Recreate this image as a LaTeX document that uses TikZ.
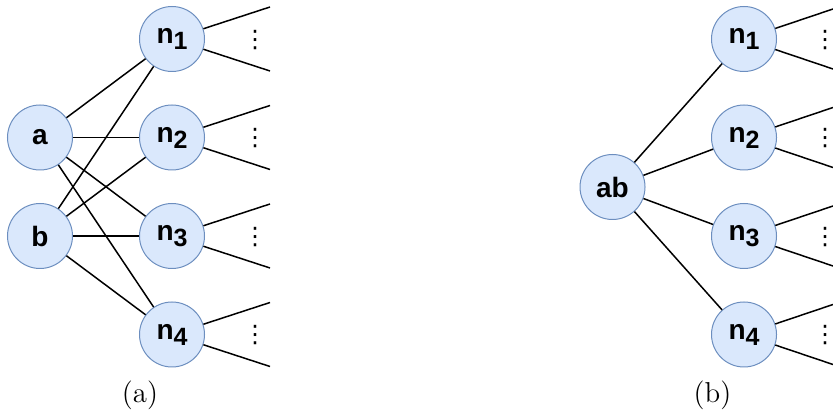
\documentclass[tikz,border=0pt]{standalone}
\usepackage{fontspec}
\newfontfamily\nodefont{Liberation Sans}
\newfontfamily\dotfont{DejaVu Sans}
\definecolor{nodefill}{HTML}{DAE8FC}
\definecolor{nodeline}{HTML}{6C8EBF}
\newcommand{\nsub}[1]{n\raisebox{-3pt}{\fontsize{12.5}{12.5}\selectfont #1}}
\tikzset{
  vertex/.style={circle, draw=nodeline, fill=nodefill, line width=0.5pt,
    minimum size=32.5pt, inner sep=0pt,
    font=\nodefont\bfseries\fontsize{14}{14}\selectfont},
  edge/.style={line width=0.75pt},
  more/.style={inner sep=0pt, font=\dotfont\fontsize{12}{12}\selectfont},
  caption/.style={font=\Large}
}

\begin{document}
\begin{tikzpicture}[x=0.5pt, y=-0.5pt]
  \useasboundingbox (0,0) rectangle (833,415);
  % (a)
  \node[vertex] (a) at (40,137.5) {a};
  \node[vertex] (b) at (40,236) {b};
  \foreach \i/\y in {1/39,2/137.5,3/236,4/334.5} {
    \node[vertex] (l\i) at (172,\y) {\nsub{\i}};
    \coordinate (lu\i) at (270,\y-32);
    \coordinate (ll\i) at (270,\y+32);
    \draw[edge] (l\i) -- (lu\i);
    \draw[edge] (l\i) -- (ll\i);
    \node[more] (ld\i) at (255,\y+1) {⋮};
    \draw[edge] (a) -- (l\i);
    \draw[edge] (b) -- (l\i);
  }
  \node[caption] (capa) at (140,395) {(a)};

  % (b)
  \node[vertex] (ab) at (612.5,187) {ab};
  \foreach \i/\y in {1/39,2/137.5,3/236,4/334.5} {
    \node[vertex] (r\i) at (744,\y) {\nsub{\i}};
    \coordinate (ru\i) at (833,\y-30);
    \coordinate (rl\i) at (833,\y+30);
    \draw[edge] (r\i) -- (ru\i);
    \draw[edge] (r\i) -- (rl\i);
    \node[more] (rd\i) at (825,\y+1) {⋮};
    \draw[edge] (ab) -- (r\i);
  }
  \node[caption] (capb) at (712.5,395) {(b)};
\end{tikzpicture}
\end{document}
